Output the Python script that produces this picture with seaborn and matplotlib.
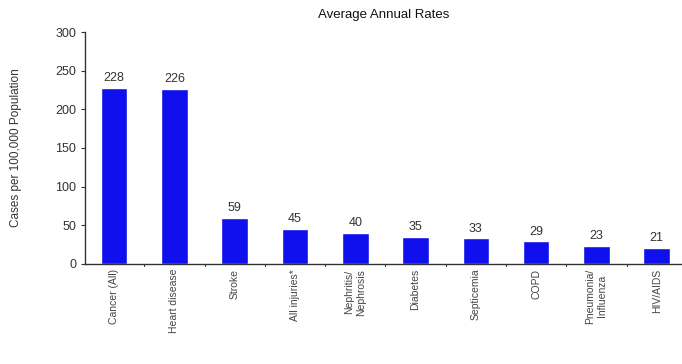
import matplotlib
matplotlib.use("Agg")
import matplotlib.pyplot as plt
import seaborn as sns
import pandas as pd

# Average annual rates per 100,000 population
causes = [
    "Cancer (All)", "Heart disease", "Stroke", "All injuries*",
    "Nephritis/\nNephrosis", "Diabetes", "Septicemia", "COPD",
    "Pneumonia/\nInfluenza", "HIV/AIDS",
]
rates = [228, 226, 59, 45, 40, 35, 33, 29, 23, 21]
y_ticks = [0, 50, 100, 150, 200, 250, 300]

df = pd.DataFrame({"cause": causes, "rate": rates})

sns.set_style("white")
plt.rcParams["font.family"] = ["Liberation Sans", "DejaVu Sans"]

fig = plt.figure(figsize=(6.82, 3.64), dpi=100)
ax = fig.add_axes([0.125, 0.275, 0.875, 0.637])

sns.barplot(data=df, x="cause", y="rate", color="#1010ee", saturation=1,
            width=0.44, ax=ax)

# value labels above each bar
for i, v in enumerate(rates):
    ax.text(i, v + 5, str(v), ha="center", va="bottom", fontsize=9, color="#333333")

ax.set_ylim(0, 300)
ax.set_xlim(-0.48, 9.42)
ax.set_yticks(y_ticks)
ax.tick_params(axis="y", labelsize=9, colors="#333333", length=3, direction="out", left=True)
ax.tick_params(axis="x", labelsize=7.5, colors="#444444", length=0)
for lbl in ax.get_xticklabels():
    lbl.set_rotation(90)
    lbl.set_va("top")

# small ticks between categories like the original
for b in [i + 0.5 for i in range(len(causes) - 1)]:
    ax.plot([b, b], [0, -3], color="#333333", lw=0.8, clip_on=False)

ax.set_xlabel("")
ax.set_ylabel("Cases per 100,000 Population", fontsize=8.5, color="#333333", labelpad=24)
ax.set_title("Average Annual Rates", fontsize=9.5, color="#111111", pad=10)

sns.despine(ax=ax)
for s in ["left", "bottom"]:
    ax.spines[s].set_color("#333333")
    ax.spines[s].set_linewidth(1.0)

fig.savefig("out.png", dpi=100)
